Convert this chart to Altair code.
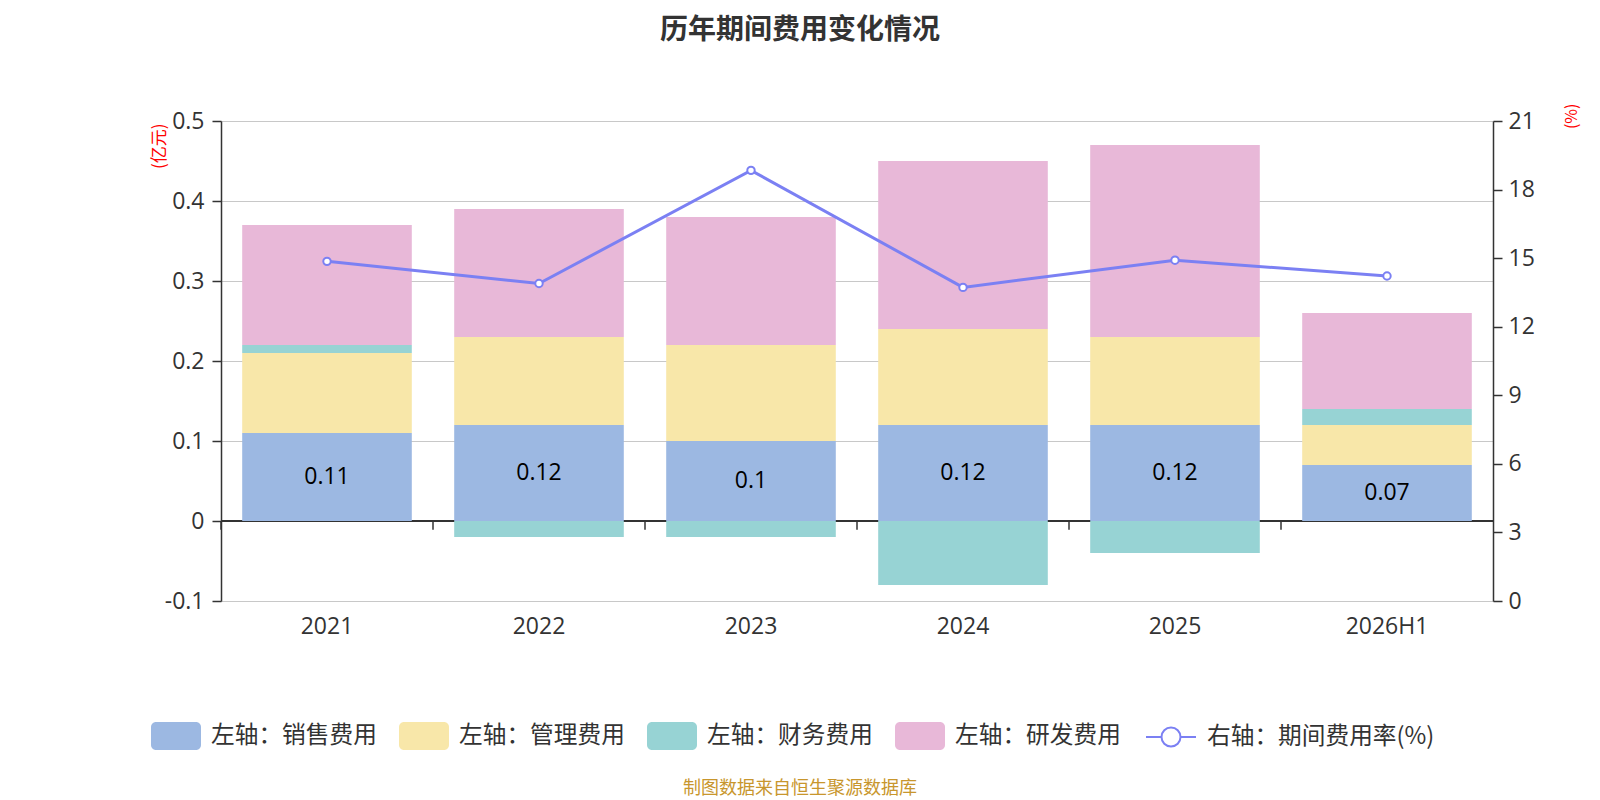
import altair as alt
import pandas as pd

categories = ["2021", "2022", "2023", "2024", "2025", "2026H1"]
sales = [0.11, 0.12, 0.10, 0.12, 0.12, 0.07]
mgmt = [0.10, 0.11, 0.12, 0.12, 0.11, 0.05]
finance = [0.01, -0.02, -0.02, -0.08, -0.04, 0.02]
rnd = [0.15, 0.16, 0.16, 0.21, 0.24, 0.12]
rate = [14.86, 13.89, 18.84, 13.72, 14.91, 14.22]

series_names = ["左轴：销售费用", "左轴：管理费用", "左轴：财务费用", "左轴：研发费用"]
line_name = "右轴：期间费用率(%)"
colors = ["#9cb8e2", "#f8e7a9", "#97d3d4", "#e8b8d8"]
LINE = "#7b80f3"

left_ticks = [-0.1, 0, 0.1, 0.2, 0.3, 0.4, 0.5]
right_ticks = [0, 3, 6, 9, 12, 15, 18, 21]

TITLE = "历年期间费用变化情况"
FOOTER = "制图数据来自恒生聚源数据库"

rows = []
for i, c in enumerate(categories):
    for k, (nm, vals) in enumerate(zip(series_names, [sales, mgmt, finance, rnd])):
        rows.append({"cat": c, "series": nm, "value": vals[i], "ord": k})
bars_df = pd.DataFrame(rows)
sales_df = pd.DataFrame({"cat": categories, "sales": sales})
rate_df = pd.DataFrame({"cat": categories, "rate": rate, "name": [line_name] * len(categories)})

FONT = "Open Sans, Noto Sans CJK SC"
CJK = "Noto Sans CJK SC"

RECT = ("M-0.8,-0.56L0.8,-0.56A0.2,0.2,0,0,1,1,-0.36L1,0.36A0.2,0.2,0,0,1,0.8,0.56"
        "L-0.8,0.56A0.2,0.2,0,0,1,-1,0.36L-1,-0.36A0.2,0.2,0,0,1,-0.8,-0.56Z")
LINEPATH = ("M-0.38,0A0.38,0.38,0,1,1,0.38,0A0.38,0.38,0,1,1,-0.38,0Z"
            "M-1,0L-0.38,0M0.38,0L1,0")

x_enc = alt.X(
    "cat:N", sort=categories, title=None,
    scale=alt.Scale(paddingInner=0.2, paddingOuter=0.1),
    axis=alt.Axis(domain=False, ticks=False, labelFontSize=23, labelColor="#333",
                  labelPadding=25, labelAngle=0, labelAlign="center", labelFont=FONT,
                  grid=False, bandPosition=0.5),
)

left_scale = alt.Scale(domain=[-0.1, 0.5], nice=False, zero=False)
left_axis = alt.Axis(
    values=left_ticks, labelExpr="toString(round(datum.value*10)/10)",
    domainColor="#333", domainWidth=1.5, tickColor="#333", tickWidth=1.5, tickSize=9,
    labelFontSize=23, labelColor="#333", labelPadding=8, labelFont=FONT,
    grid=True, gridColor="#c8c8c8", gridWidth=1.2,
    title="(亿元)", titleColor="#ff0000", titleFontSize=17, titleFontWeight="normal",
    titleFont=CJK, titleAngle=270, titleX=-62, titleY=2, titleAlign="right",
    titleBaseline="middle",
)
right_axis = alt.Axis(
    values=right_ticks, orient="right",
    domainColor="#333", domainWidth=1.5, tickColor="#333", tickWidth=1.5, tickSize=9,
    labelFontSize=23, labelColor="#333", labelPadding=6, labelFont=FONT, grid=False,
    title="(%)", titleColor="#ff0000", titleFontSize=16, titleFontWeight="normal",
    titleFont=CJK, titleAngle=270, titleX=78, titleY=-18, titleAlign="right",
    titleBaseline="middle",
)

fill_legend = alt.Legend(
    orient="none", legendX=-70, legendY=590, direction="horizontal", columns=4,
    title=None, symbolType=RECT, symbolSize=2500, labelFontSize=23.7, labelColor="#333",
    labelFont=CJK, labelOffset=10, columnPadding=22, symbolStrokeWidth=0, labelLimit=0,
)
line_legend = alt.Legend(
    orient="none", legendX=924, legendY=590, direction="horizontal",
    title=None, symbolType=LINEPATH, symbolSize=2500, labelFontSize=23.7, labelColor="#333",
    labelFont=CJK, labelOffset=10, symbolStrokeWidth=2, symbolFillColor="#ffffff",
    labelLimit=0,
)

zero_rule = alt.Chart(sales_df).mark_rule(color="#333", strokeWidth=1.5).encode(
    y=alt.datum(0, scale=left_scale)
)
tick_rules = alt.Chart(sales_df).mark_rule(color="#333", strokeWidth=1.5, xOffset=-21.2).encode(
    x=alt.X("cat:N", sort=categories, bandPosition=0),
    y=alt.datum(0),
    y2=alt.datum(-0.011),
)
bars = alt.Chart(bars_df).mark_bar(stroke=None).encode(
    x=x_enc,
    y=alt.Y("value:Q", stack="zero", scale=left_scale, axis=left_axis),
    fill=alt.Fill("series:N", scale=alt.Scale(domain=series_names, range=colors),
                  legend=fill_legend),
    order=alt.Order("ord:Q", sort="ascending"),
)
labels = alt.Chart(sales_df).transform_calculate(mid="datum.sales / 2").mark_text(
    fontSize=23, color="#000000", font=FONT, baseline="middle"
).encode(
    x=alt.X("cat:N", sort=categories),
    y=alt.Y("mid:Q"),
    text=alt.Text("sales:Q"),
)
footer = alt.Chart(pd.DataFrame({"t": [FOOTER]})).mark_text(
    fontSize=18, color="#c8962d", font=CJK, align="center", baseline="middle"
).encode(text="t:N", x=alt.value(579), y=alt.value(668))

line = alt.Chart(rate_df).mark_line(color=LINE, strokeWidth=3).encode(
    x=alt.X("cat:N", sort=categories),
    y=alt.Y("rate:Q", scale=alt.Scale(domain=[0, 21], nice=False), axis=right_axis),
)
points = alt.Chart(rate_df).mark_point(
    shape="circle", filled=True, fill="#ffffff", strokeWidth=2, size=55, opacity=1
).encode(
    x=alt.X("cat:N", sort=categories),
    y=alt.Y("rate:Q"),
    stroke=alt.Stroke("name:N", scale=alt.Scale(domain=[line_name], range=[LINE]),
                      legend=line_legend),
)

left = alt.layer(zero_rule, tick_rules, bars, labels, footer)
right = alt.layer(line, points)

chart = alt.layer(left, right).resolve_scale(y="independent").properties(
    width=1272, height=480,
    padding={"left": 213, "top": 113, "right": 99, "bottom": 199},
    autosize=alt.AutoSizeParams(type="none"),
    title=alt.Title(TITLE, fontSize=28, fontWeight="bold", color="#333", font=CJK,
                    anchor="middle", dx=-57, offset=58),
).configure_view(stroke=None).configure(background="white")

chart.save("out.html", embed_options={"renderer": "svg", "actions": False})
